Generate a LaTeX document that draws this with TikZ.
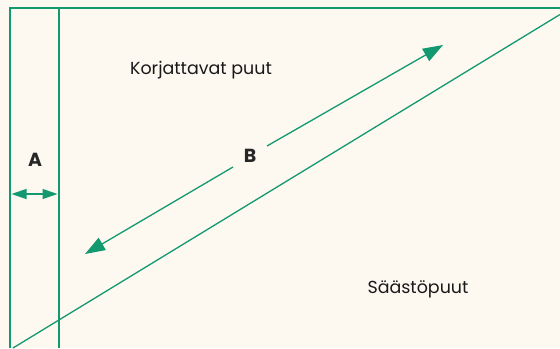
\documentclass[tikz,border=0pt]{standalone}
\usepackage{fontspec}
\setmainfont{Poppins}
\usetikzlibrary{arrows.meta}
\definecolor{bg}{HTML}{FDF8F0}
\definecolor{gr}{HTML}{12996F}
\begin{document}
\begin{tikzpicture}[x=1bp,y=-1bp,
  frame/.style={draw=gr,line width=1.6bp},
  thin/.style={draw=gr,line width=1.3bp},
  arr/.style={draw=gr,line width=1.3bp,-{Triangle[length=20bp,width=14bp]}},
  lbl/.style={font=\fontsize{17.5}{20}\selectfont,text=black!90},
  bl/.style={font=\fontsize{19}{22}\selectfont\bfseries,text=black!85}]
\fill[bg] (0,0) rectangle (560,348);
\useasboundingbox (0,0) rectangle (560,348);
\coordinate (tl) at (10,8);
\coordinate (tr) at (560,8);
\coordinate (bl0) at (10,348);
\coordinate (vt) at (59,8);
\coordinate (vb) at (59,348);
\coordinate (d1) at (13,348);
\coordinate (d2) at (560,14.5);
\draw[frame] (bl0) -- (tl) -- (tr);
\draw[frame] (vt) -- (vb);
\draw[thin] (d1) -- (d2);
\coordinate (b1) at (85,254);
\coordinate (b1e) at (233,167);
\coordinate (b2) at (443,45);
\coordinate (b2s) at (267,146);
\draw[arr] (b1e) -- (b1);
\draw[arr] (b2s) -- (b2);
\node[bl] (B) at (250,156) {B};
\coordinate (a1) at (11.5,194);
\coordinate (a2) at (57.5,194);
\draw[draw=gr,line width=1.3bp,{Triangle[length=15bp,width=10bp]}-{Triangle[length=15bp,width=10bp]}] (a1) -- (a2);
\node[bl] (A) at (35,160) {A};
\node[lbl] (K) at (201,70) {Korjattavat puut};
\node[lbl] (S) at (418,289) {Säästöpuut};
\end{tikzpicture}
\end{document}
